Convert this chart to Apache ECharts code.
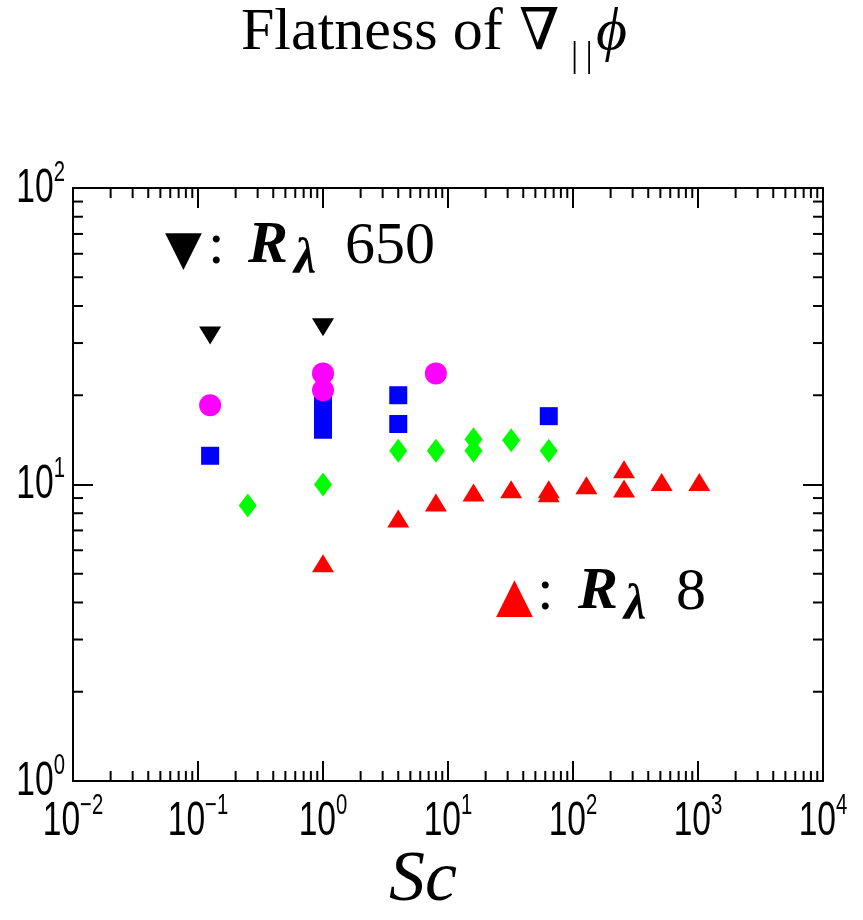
<!DOCTYPE html>
<html>
<head>
<meta charset="utf-8">
<script src="https://cdn.jsdelivr.net/npm/echarts@6/dist/echarts.min.js"></script>
<style>
  html, body { margin: 0; padding: 0; background: #fff; }
  #chart { width: 863px; height: 920px; }
</style>
</head>
<body>
<div id="chart"></div>
<script>
// ---- Data ----
// R_lambda 650 (black, down triangles)
const re650 = [[0.125, 31.8], [1, 33.9]];
// magenta circles
const magentaPts = [[0.125, 18.5], [1, 20.8], [1, 23.7], [8, 23.7]];
// blue squares
const bluePts = [[0.125, 12.5], [1, 15.3], [1, 16.3], [1, 17.3], [1, 18.4], [4, 16.0], [4, 20.0], [64, 17.0]];
// green diamonds
const greenPts = [[0.25, 8.5], [1, 10.0], [4, 13.0], [8, 13.0], [16, 13.0], [16, 14.2], [32, 14.1], [64, 13.0]];
// R_lambda 8 (red, up triangles)
const re8 = [[1, 5.42], [4, 7.68], [8, 8.7], [16, 9.4], [32, 9.64], [64, 9.34], [64, 9.64], [128, 9.95], [256, 9.7], [256, 11.26], [512, 10.2], [1024, 10.2]];

// axis ticks
const xMajor = [0.01, 0.1, 1, 10, 100, 1000, 10000];
const yMajor = [1, 10, 100];
const minorMantissas = [2, 3, 4, 5, 6, 7, 8, 9];
const xDecades = [0.01, 0.1, 1, 10, 100, 1000];
const yDecades = [1, 10];

const X_MIN = 0.01, X_MAX = 10000, Y_MIN = 1, Y_MAX = 100;

const xMinor = [];
xDecades.forEach(d => minorMantissas.forEach(m => xMinor.push([m * d, Y_MIN])));
const yMinor = [];
yDecades.forEach(d => minorMantissas.forEach(m => yMinor.push([X_MIN, m * d])));

const MINOR_LEN = 10, MAJOR_LEN = 20;
const tickStyle = { stroke: '#000', lineWidth: 2 };

// tick label typography (condensed Helvetica-like)
const SANS = '"Liberation Sans", Arial, sans-serif';
const BASE_SIZE = 48, SUP_SIZE = 29, LABEL_SCALE_X = 0.7;
const MID_RATIO = 0.3465; // distance from 'middle' to alphabetic baseline, in em
const measureCtx = document.createElement('canvas').getContext('2d');
function textWidth(t, size) { measureCtx.font = size + 'px ' + SANS; return measureCtx.measureText(t).width; }
function expText(e) { return e < 0 ? '\u2212' + (-e) : String(e); }

// builds a "10^e" label; anchor 'center' (x labels) or 'right' (y labels); baseDy = baseline offset from anchor
function powerLabel(px, py, e, anchor, baseDy) {
  const sup = expText(e);
  const wb = textWidth('10', BASE_SIZE);
  const ws = textWidth(sup, SUP_SIZE);
  const total = wb + ws;
  const x0 = anchor === 'center' ? -total / 2 : -total;
  return {
    type: 'group', x: px, y: py, scaleX: LABEL_SCALE_X,
    children: [
      { type: 'text', x: x0, y: baseDy - MID_RATIO * BASE_SIZE, style: { text: '10', fontSize: BASE_SIZE, fontFamily: SANS, fill: '#000', align: 'left', verticalAlign: 'middle' } },
      { type: 'text', x: x0 + wb, y: baseDy - 22 - MID_RATIO * SUP_SIZE, style: { text: sup, fontSize: SUP_SIZE, fontFamily: SANS, fill: '#000', align: 'left', verticalAlign: 'middle' } }
    ]
  };
}

const chart = echarts.init(document.getElementById('chart'), null, { renderer: 'canvas' });

const serif = 'Liberation Serif, Times New Roman, DejaVu Serif, serif';

function txt(text, x, baseline, size, opts) {
  opts = opts || {};
  const ratio = opts.ratio != null ? opts.ratio : 0.3375;
  return {
    type: 'text', x: x, y: baseline - ratio * size, silent: true,
    style: {
      text: text, fontSize: size, fontFamily: opts.family || serif,
      fontStyle: opts.italic ? 'italic' : 'normal', fontWeight: opts.bold ? 'bold' : 'normal',
      fill: opts.color || '#000', align: opts.align || 'left', verticalAlign: 'middle'
    }
  };
}

const axisCommon = {
  type: 'log', logBase: 10,
  axisLine: { show: true, onZero: false, lineStyle: { color: '#000', width: 2 } },
  axisTick: { show: true, inside: true, length: MAJOR_LEN, lineStyle: { color: '#000', width: 2 } },
  axisLabel: { show: false },
  splitLine: { show: false }
};

const option = {
  backgroundColor: '#fff',
  animation: false,
  grid: { left: 73, right: 40, top: 188, bottom: 139, containLabel: false },
  xAxis: [
    Object.assign({}, axisCommon, { min: X_MIN, max: X_MAX, position: 'bottom' }),
    Object.assign({}, axisCommon, { min: X_MIN, max: X_MAX, position: 'top' })
  ],
  yAxis: [
    Object.assign({}, axisCommon, { min: Y_MIN, max: Y_MAX, position: 'left' }),
    Object.assign({}, axisCommon, { min: Y_MIN, max: Y_MAX, position: 'right' })
  ],
  graphic: [
    // Title: Flatness of ∇‖ϕ
    txt('Flatness of', 241, 53, 60),
    txt('\u2207', 519, 54, 58, { family: 'DejaVu Serif, serif', ratio: 0.346 }),
    txt('|\u2009|', 571, 69, 36),
    txt('\u03D5', 596, 53, 60, { italic: true }),
    // annotation ▼: Rλ 650
    txt('\u25BC', 165, 268, 48, { family: 'DejaVu Sans, sans-serif', ratio: 0.346 }),
    txt(':', 208, 267, 60),
    txt('R', 248, 267, 60, { italic: true, bold: true }),
    txt('\u03BB', 294, 277, 50, { italic: true, bold: true }),
    txt('650', 345, 267, 60),
    // annotation ▲: Rλ 8
    txt('\u25B2', 496, 615, 48, { family: 'DejaVu Sans, sans-serif', ratio: 0.346, color: '#ff0000' }),
    txt(':', 537, 613, 60),
    txt('R', 578, 613, 60, { italic: true, bold: true }),
    txt('\u03BB', 624, 623, 50, { italic: true, bold: true }),
    txt('8', 676, 613, 60),
    // x axis label
    txt('Sc', 423, 905, 72, { italic: true, align: 'center' })
  ],
  series: [
    {
      name: 'xMinorTicks', type: 'custom', coordinateSystem: 'cartesian2d', xAxisIndex: 0, yAxisIndex: 0,
      silent: true, clip: false, z: 5, data: xMinor,
      renderItem: function (params, api) {
        const v = api.value(0);
        const b = api.coord([v, Y_MIN]);
        const t = api.coord([v, Y_MAX]);
        return {
          type: 'group', children: [
            { type: 'line', shape: { x1: b[0], y1: b[1], x2: b[0], y2: b[1] - MINOR_LEN }, style: tickStyle },
            { type: 'line', shape: { x1: t[0], y1: t[1], x2: t[0], y2: t[1] + MINOR_LEN }, style: tickStyle }
          ]
        };
      }
    },
    {
      name: 'yMinorTicks', type: 'custom', coordinateSystem: 'cartesian2d', xAxisIndex: 0, yAxisIndex: 0,
      silent: true, clip: false, z: 5, data: yMinor,
      renderItem: function (params, api) {
        const v = api.value(1);
        const l = api.coord([X_MIN, v]);
        const r = api.coord([X_MAX, v]);
        return {
          type: 'group', children: [
            { type: 'line', shape: { x1: l[0], y1: l[1], x2: l[0] + MINOR_LEN, y2: l[1] }, style: tickStyle },
            { type: 'line', shape: { x1: r[0], y1: r[1], x2: r[0] - MINOR_LEN, y2: r[1] }, style: tickStyle }
          ]
        };
      }
    },
    {
      name: 'xTickLabels', type: 'custom', coordinateSystem: 'cartesian2d', xAxisIndex: 0, yAxisIndex: 0,
      silent: true, clip: false, z: 5, data: xMajor.map(v => [v, Y_MIN]),
      renderItem: function (params, api) {
        const v = api.value(0);
        const p = api.coord([v, Y_MIN]);
        const e = Math.round(Math.log10(v));
        return powerLabel(p[0], p[1], e, 'center', 57);
      }
    },
    {
      name: 'yTickLabels', type: 'custom', coordinateSystem: 'cartesian2d', xAxisIndex: 0, yAxisIndex: 0,
      silent: true, clip: false, z: 5, data: yMajor.map(v => [X_MIN, v]),
      renderItem: function (params, api) {
        const v = api.value(1);
        const p = api.coord([X_MIN, v]);
        const e = Math.round(Math.log10(v));
        return powerLabel(p[0] - 8, p[1], e, 'right', 17);
      }
    },
    {
      name: 'R\u03BB 8', type: 'scatter', data: re8, symbol: 'triangle', symbolSize: [22, 18],
      itemStyle: { color: '#ff0000', opacity: 1 }, z: 3
    },
    {
      name: 'green', type: 'scatter', data: greenPts, symbol: 'diamond', symbolSize: [18, 24],
      itemStyle: { color: '#00ff00', opacity: 1 }, z: 3
    },
    {
      name: 'blue', type: 'scatter', data: bluePts, symbol: 'rect', symbolSize: 18,
      itemStyle: { color: '#0000ff', opacity: 1 }, z: 3
    },
    {
      name: 'magenta', type: 'scatter', data: magentaPts, symbol: 'circle', symbolSize: 22,
      itemStyle: { color: '#ff00ff', opacity: 1 }, z: 3
    },
    {
      name: 'R\u03BB 650', type: 'scatter', data: re650, symbol: 'triangle', symbolRotate: 180, symbolSize: [22, 18],
      itemStyle: { color: '#000000', opacity: 1 }, z: 3
    }
  ]
};
chart.setOption(option);
</script>
</body>
</html>
